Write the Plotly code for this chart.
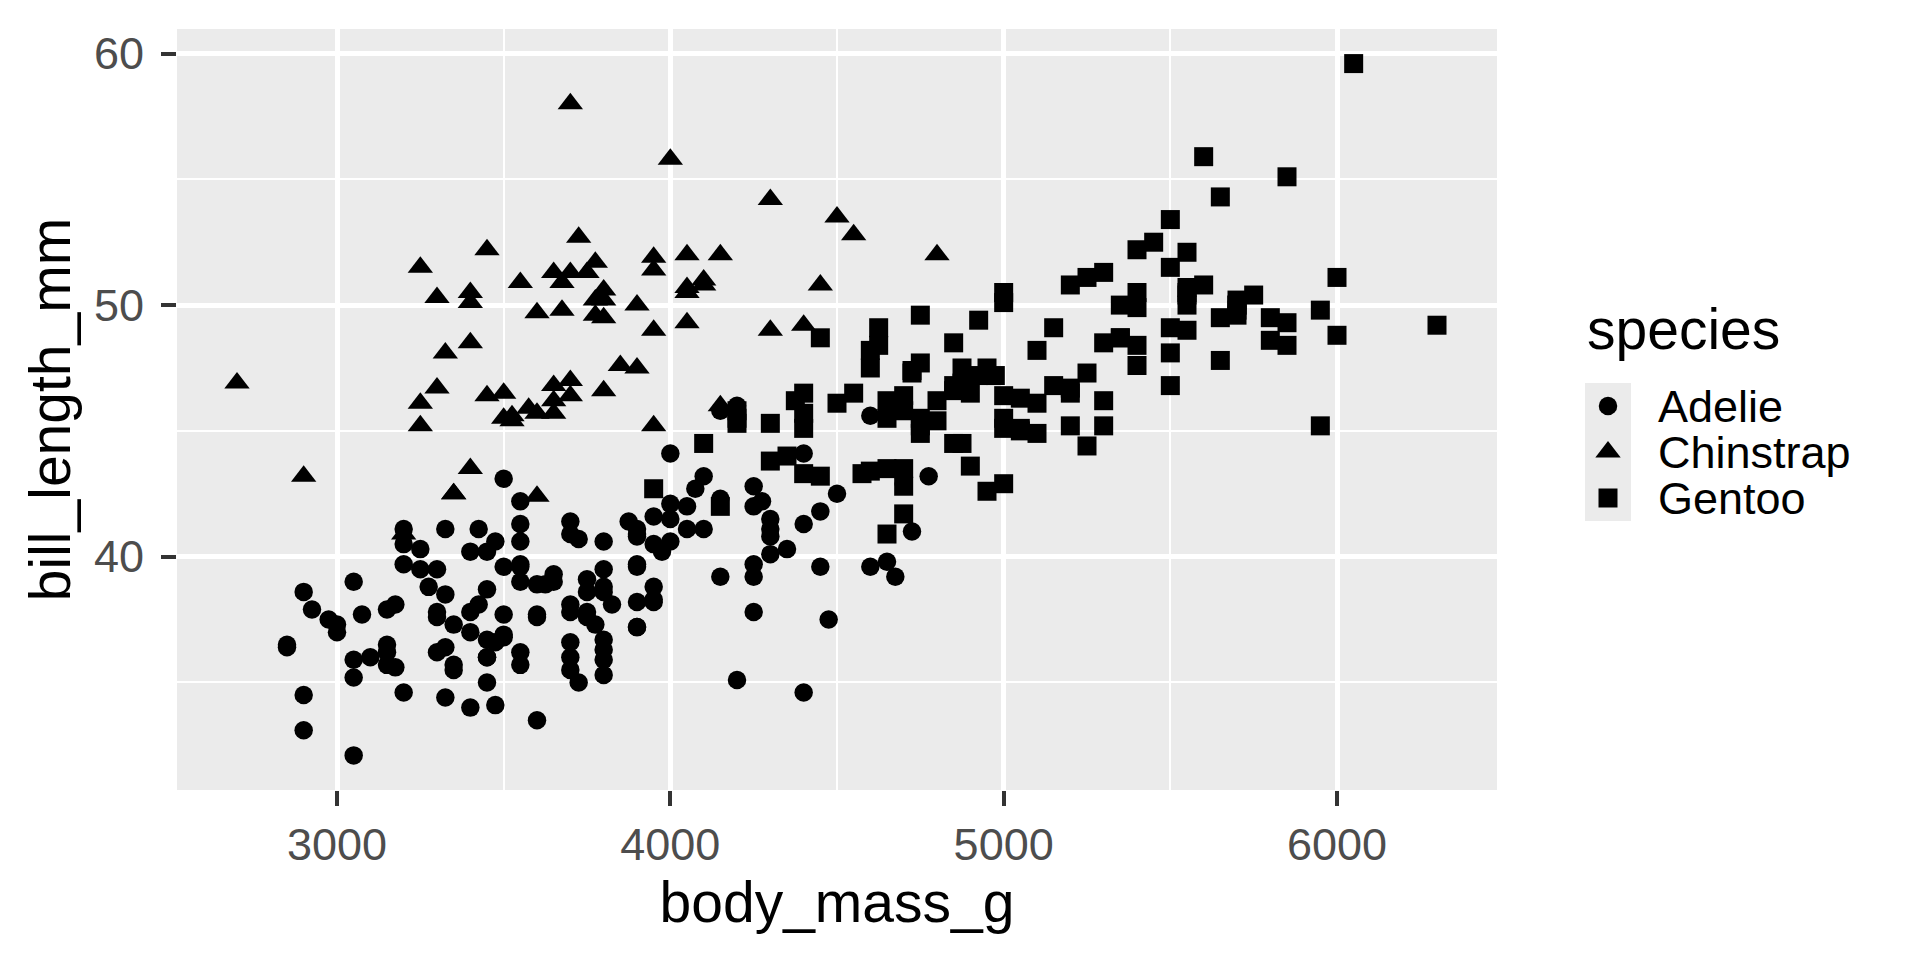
import plotly.graph_objects as go

# Palmer penguins: body mass (g) and bill length (mm), by species
adelie_mass = [3750, 3800, 3250, 3450, 3650, 3625, 4675, 3475, 4250, 3300, 3700, 3200, 3800, 4400,
               3700, 3450, 4500, 3325, 4200, 3400, 3600, 3800, 3950, 3800, 3800, 3550, 3200, 3150,
               3950, 3250, 3900, 3300, 3900, 3325, 4150, 3950, 3550, 3300, 4650, 3150, 3900, 3100,
               4400, 3000, 4600, 3425, 2975, 3450, 4150, 3500, 4300, 3450, 4050, 2900, 3700, 3550,
               3800, 2850, 3750, 3150, 4400, 3600, 4050, 2850, 3950, 3350, 4100, 3050, 4450, 3600,
               3900, 3550, 4150, 3700, 4250, 3700, 3900, 3550, 4000, 3200, 4700, 3800, 4200, 3350,
               3550, 3800, 3500, 3950, 3600, 3550, 4300, 3400, 4450, 3300, 4300, 3700, 4350, 2900,
               4100, 3725, 4725, 3075, 4250, 2925, 3550, 3750, 3900, 3175, 4775, 3825, 4600, 3200,
               4275, 3900, 4075, 2900, 3775, 3350, 3325, 3150, 3500, 3450, 3875, 3050, 4000, 3275,
               4300, 3050, 4000, 3325, 3500, 3500, 4475, 3425, 3900, 3175, 3975, 3400, 4250, 3400,
               3475, 3050, 3725, 3000, 3650, 4250, 3475, 3450, 3750, 3700, 4000]
adelie_bill = [39.1, 39.5, 40.3, 36.7, 39.3, 38.9, 39.2, 34.1, 42.0, 37.8, 37.8, 41.1, 38.6, 34.6,
               36.6, 38.7, 42.5, 34.4, 46.0, 37.8, 37.7, 35.9, 38.2, 38.8, 35.3, 40.6, 40.5, 37.9,
               40.5, 39.5, 37.2, 39.5, 40.9, 36.4, 39.2, 38.8, 42.2, 37.6, 39.8, 36.5, 40.8, 36.0,
               44.1, 37.0, 39.6, 41.1, 37.5, 36.0, 42.3, 39.6, 40.1, 35.0, 42.0, 34.5, 41.4, 39.0,
               40.6, 36.5, 37.6, 35.7, 41.3, 37.6, 41.1, 36.4, 41.6, 35.5, 41.1, 35.9, 41.8, 33.5,
               39.7, 39.6, 45.8, 35.5, 42.8, 40.9, 37.2, 36.2, 42.1, 34.6, 42.9, 36.7, 35.1, 37.3,
               41.3, 36.3, 36.9, 38.3, 38.9, 35.7, 41.1, 34.0, 39.6, 36.2, 40.8, 38.1, 40.3, 33.1,
               43.2, 35.0, 41.0, 37.7, 37.8, 37.9, 39.7, 38.6, 38.2, 38.1, 43.2, 38.1, 45.6, 39.7,
               42.2, 39.6, 42.7, 38.6, 37.3, 35.7, 41.1, 36.2, 37.7, 40.2, 41.4, 35.2, 40.6, 38.8,
               41.5, 39.0, 44.1, 38.5, 43.1, 36.8, 37.5, 38.1, 41.1, 35.6, 40.2, 37.0, 39.7, 40.2,
               40.6, 32.1, 40.7, 37.3, 39.0, 39.2, 36.6, 36.0, 37.8, 36.0, 41.5]

chinstrap_mass = [3500, 3900, 3650, 3525, 3725, 3950, 3250, 3750, 4150, 3700, 3800, 3775, 3700, 4050,
                  3575, 4050, 3300, 3700, 3450, 4400, 3600, 3400, 2900, 3800, 3300, 4150, 3400, 3800,
                  3700, 4550, 3200, 4300, 3350, 4100, 3600, 3900, 3850, 4800, 2700, 4500, 3950, 3650,
                  3550, 3500, 3675, 4450, 3400, 4300, 3250, 3675, 3325, 3950, 3600, 4050, 3350, 3450,
                  3250, 4050, 3800, 3525, 3950, 3650, 3650, 4000, 3400, 3775, 4100, 3775]
chinstrap_bill = [46.5, 50.0, 51.3, 45.4, 52.7, 45.2, 46.1, 51.3, 46.0, 51.3, 46.6, 51.7, 47.0, 52.0,
                  45.9, 50.5, 50.3, 58.0, 46.4, 49.2, 42.4, 48.5, 43.2, 50.6, 46.7, 52.0, 50.5, 49.5,
                  46.4, 52.8, 40.9, 54.2, 42.5, 51.0, 49.7, 47.5, 47.6, 52.0, 46.9, 53.5, 49.0, 46.2,
                  50.9, 45.5, 50.9, 50.8, 50.1, 49.0, 51.5, 49.8, 48.1, 51.4, 45.7, 50.7, 42.5, 52.2,
                  45.2, 49.3, 50.2, 45.6, 51.9, 46.8, 45.7, 55.8, 43.5, 49.6, 50.8, 50.2]

gentoo_mass = [4500, 5700, 4450, 5700, 5400, 4550, 4800, 5200, 4400, 5150, 4650, 5550, 4650, 5850,
               4200, 5850, 4150, 6300, 4800, 5350, 5700, 5000, 4400, 5050, 5000, 5100, 4100, 5650,
               4600, 5550, 5250, 4700, 5050, 6050, 5150, 5400, 4950, 5250, 4350, 5350, 3950, 5700,
               4300, 4750, 5550, 4900, 4200, 5400, 5100, 5300, 4850, 5300, 4400, 5000, 4900, 5050,
               4300, 5000, 4450, 5550, 4200, 5300, 4400, 5650, 4700, 5700, 4650, 5800, 4700, 5550,
               4750, 5000, 5100, 5200, 4700, 5800, 4600, 6000, 4750, 5950, 4625, 5450, 4725, 5350,
               4750, 5600, 4600, 5300, 4875, 5550, 4950, 5400, 4750, 5650, 4850, 5200, 4925, 4875,
               4625, 5250, 4850, 5600, 4975, 5500, 4725, 5500, 4700, 5500, 4575, 5500, 5000, 5950,
               4650, 5500, 4375, 5850, 4875, 6000, 4925, 4850, 5750, 5200, 5400]
gentoo_bill = [46.1, 50.0, 48.7, 50.0, 47.6, 46.5, 45.4, 46.7, 43.3, 46.8, 40.9, 49.0, 45.5, 48.4,
               45.8, 49.3, 42.0, 49.2, 46.2, 48.7, 50.2, 45.1, 46.5, 46.3, 42.9, 46.1, 44.5, 47.8,
               48.2, 50.0, 47.3, 42.8, 45.1, 59.6, 49.1, 48.4, 42.6, 44.4, 44.0, 48.7, 42.7, 49.6,
               45.3, 49.6, 50.5, 43.6, 45.5, 50.5, 44.9, 45.2, 46.6, 48.5, 45.1, 50.1, 46.5, 45.0,
               43.8, 45.5, 43.2, 50.4, 45.3, 46.2, 45.7, 54.3, 45.8, 49.8, 46.2, 49.5, 43.5, 50.7,
               47.7, 46.4, 48.2, 46.5, 46.4, 48.6, 47.5, 51.1, 45.2, 45.2, 49.1, 52.5, 47.4, 50.0,
               44.9, 50.8, 43.4, 51.3, 47.5, 52.1, 47.5, 52.2, 45.5, 49.5, 44.5, 50.8, 49.4, 46.9,
               48.4, 51.1, 48.5, 55.9, 47.2, 49.1, 47.3, 46.8, 41.7, 53.4, 43.3, 48.1, 50.5, 49.8,
               43.5, 51.5, 46.2, 55.1, 44.5, 48.8, 47.2, 46.8, 50.4, 45.2, 49.9]

species = ["Adelie", "Chinstrap", "Gentoo"]

FONT = "Liberation Sans, Arial, sans-serif"
GREY_BG = "#EBEBEB"

# the page body adds an 8px margin, so the figure is 8px smaller each way.
# plot area spans page x 177..1920; main panel uses the left 1320 px, the rest holds the key
W_AREA = 1920 - 177
MAIN_W = 1320
KEY_X0, KEY_X1 = 1585 - 177, 1631 - 177


def py(page_y):
    # page y (px) -> paper y; panel spans page y 29..790
    return (790 - page_y) / 761


SHAPES = {"Adelie": ("circle", 18.5), "Chinstrap": ("triangle-up", 22), "Gentoo": ("square", 19)}
series = {"Adelie": (adelie_mass, adelie_bill),
          "Chinstrap": (chinstrap_mass, chinstrap_bill),
          "Gentoo": (gentoo_mass, gentoo_bill)}

fig = go.Figure()
for name in species:
    xs, ys = series[name]
    sym, sz = SHAPES[name]
    fig.add_trace(go.Scatter(x=xs, y=ys, mode="markers", name=name, showlegend=False,
                             marker=dict(symbol=sym, size=sz, color="black", line=dict(width=0))))

# legend keys drawn on a small categorical subplot
for name in species:
    sym, sz = SHAPES[name]
    fig.add_trace(go.Scatter(x=[0], y=[name], mode="markers", showlegend=False, hoverinfo="skip",
                             xaxis="x2", yaxis="y2",
                             marker=dict(symbol=sym, size=sz, color="black", line=dict(width=0))))

axis_common = dict(
    showgrid=True, gridcolor="white", gridwidth=4.5, zeroline=False, showline=False,
    ticks="outside", ticklen=15, tickwidth=4, tickcolor="#333333",
    tickfont=dict(family=FONT, size=45, color="#4D4D4D"), automargin=False,
)

fig.update_layout(
    width=1912, height=952, autosize=False,
    margin=dict(l=169, r=0, t=21, b=170),
    plot_bgcolor=GREY_BG, paper_bgcolor="white",
    font=dict(family=FONT, color="black"),
    showlegend=False,
    xaxis=dict(**axis_common, domain=[0, MAIN_W / W_AREA], range=[2520, 6480], tick0=0, dtick=1000,
               minor=dict(dtick=500, tick0=0, showgrid=True, gridcolor="white", gridwidth=2.3),
               ticklabelstandoff=0,
               title=dict(text="body_mass_g", font=dict(family=FONT, size=57, color="black"),
                          standoff=12)),
    yaxis=dict(**axis_common, domain=[0, 1], range=[30.725, 60.975], tick0=0, dtick=10,
               minor=dict(dtick=5, tick0=0, showgrid=True, gridcolor="white", gridwidth=2.3),
               ticklabelstandoff=8,
               title=dict(text="bill_length_mm", font=dict(family=FONT, size=57, color="black"),
                          standoff=4)),
    xaxis2=dict(domain=[KEY_X0 / W_AREA, KEY_X1 / W_AREA], range=[-1, 1], anchor="y2",
                showgrid=False, zeroline=False, showticklabels=False, ticks="", fixedrange=True),
    yaxis2=dict(domain=[py(521), py(383)], anchor="x2", side="right",
                type="category", categoryorder="array", categoryarray=species,
                tickmode="array", tickvals=species, ticktext=species,
                range=[2.5, -0.5], showgrid=False, zeroline=False, ticks="", fixedrange=True,
                tickfont=dict(family=FONT, size=45, color="black"), ticklabelstandoff=26,
                automargin=False),
    annotations=[dict(text="species", xref="paper", yref="paper",
                      x=KEY_X0 / W_AREA, y=py(329), xanchor="left", yanchor="middle",
                      showarrow=False, font=dict(family=FONT, size=57, color="black"))],
)

fig.write_html("out.html")
